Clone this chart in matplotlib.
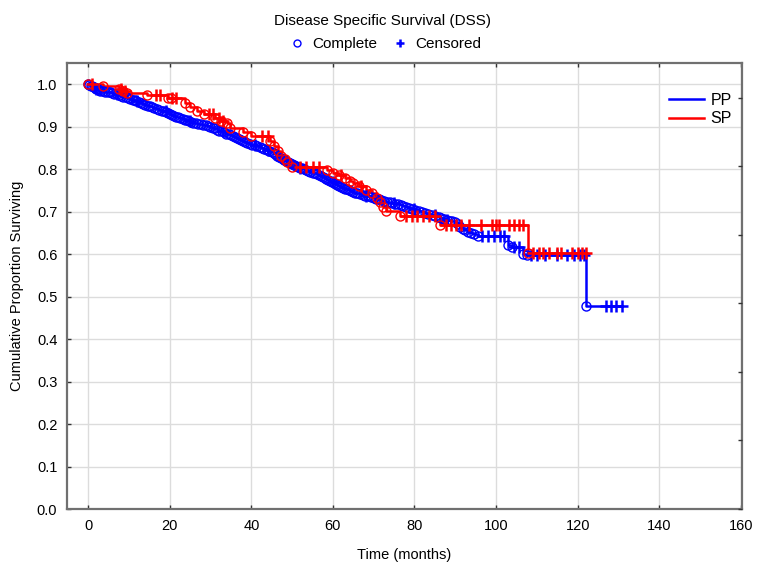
import numpy as np
import matplotlib
matplotlib.use("Agg")
import matplotlib.pyplot as plt
from matplotlib.lines import Line2D

plt.rcParams["font.family"] = ["Liberation Sans", "DejaVu Sans"]
plt.rcParams["font.size"] = 10.5

# PP: event (complete) times and survival after each event
pp_event_t = [0.3, 0.6, 1.0, 1.3, 1.6, 2.0, 2.3, 2.7, 3.0, 3.6, 4.2, 4.8, 5.3, 5.9, 6.4,
              7.0, 7.5, 8.1, 8.6, 9.2, 9.8, 10.3, 10.9, 11.4, 11.8, 12.4, 12.9, 13.5,
              14.0, 14.6, 15.1, 15.7, 16.2, 16.8, 17.4, 18.0, 18.5, 19.1, 19.6, 20.1,
              20.6, 21.1, 21.6, 22.1, 22.6, 23.2, 23.7, 24.3, 24.8, 25.3, 25.8, 26.4,
              27.0, 27.6, 28.2, 28.8, 29.3, 29.9, 30.5, 31.0, 31.6, 32.1, 32.7, 33.3,
              33.9, 34.5, 35.0, 35.5, 36.0, 36.5, 37.0, 37.5, 38.0, 38.5, 39.0, 39.6,
              40.2, 40.8, 41.4, 42.0, 42.6, 43.2, 43.8, 44.4, 45.0, 45.5, 45.9, 46.4,
              46.8, 47.2, 47.7, 48.1, 48.6, 49.0, 49.5, 50.0, 50.5, 51.0, 51.5, 52.0,
              52.5, 53.0, 53.5, 54.0, 54.5, 55.0, 55.5, 56.0, 56.5, 57.0, 57.5, 58.0,
              58.4, 58.9, 59.3, 59.8, 60.2, 60.7, 61.1, 61.6, 62.0, 62.5, 63.0, 63.5,
              64.0, 64.5, 65.0, 65.5, 66.0, 66.6, 67.3, 67.9, 68.6, 69.3, 70.0, 70.6,
              71.3, 71.9, 72.6, 73.3, 74.0, 74.6, 75.3, 75.9, 76.6, 77.3, 78.0, 78.7,
              79.5, 80.2, 81.0, 81.8, 82.6, 83.4, 84.2, 85.1, 86.0, 86.6, 87.3, 87.9,
              88.6, 89.3, 90.0, 90.6, 91.2, 91.8, 92.4, 93.1, 93.8, 94.6, 95.5,
              103.0, 103.8, 106.7, 107.6, 122.0]
pp_event_s = [0.999, 0.997, 0.995, 0.994, 0.992, 0.990, 0.988, 0.987, 0.985, 0.984, 0.983,
              0.982, 0.981, 0.980, 0.978, 0.977, 0.975, 0.973, 0.971, 0.969, 0.967, 0.966,
              0.964, 0.962, 0.960, 0.958, 0.956, 0.954, 0.952, 0.950, 0.948, 0.946, 0.944,
              0.942, 0.940, 0.938, 0.936, 0.934, 0.932, 0.930, 0.928, 0.926, 0.924, 0.922,
              0.920, 0.918, 0.917, 0.915, 0.914, 0.912, 0.910, 0.909, 0.907, 0.906, 0.904,
              0.903, 0.901, 0.900, 0.898, 0.896, 0.893, 0.891, 0.889, 0.887, 0.884, 0.882,
              0.880, 0.878, 0.876, 0.873, 0.871, 0.869, 0.867, 0.864, 0.862, 0.860, 0.858,
              0.856, 0.854, 0.852, 0.849, 0.847, 0.845, 0.843, 0.840, 0.838, 0.835, 0.832,
              0.829, 0.826, 0.824, 0.822, 0.819, 0.817, 0.814, 0.812, 0.810, 0.808, 0.806,
              0.804, 0.802, 0.800, 0.798, 0.796, 0.794, 0.792, 0.790, 0.788, 0.786, 0.784,
              0.782, 0.780, 0.777, 0.775, 0.772, 0.770, 0.767, 0.765, 0.763, 0.761, 0.758,
              0.756, 0.754, 0.753, 0.751, 0.749, 0.747, 0.745, 0.743, 0.741, 0.739, 0.738,
              0.736, 0.734, 0.732, 0.731, 0.729, 0.727, 0.725, 0.724, 0.722, 0.720, 0.718,
              0.717, 0.715, 0.713, 0.711, 0.709, 0.707, 0.705, 0.702, 0.700, 0.697, 0.695,
              0.692, 0.690, 0.687, 0.685, 0.683, 0.681, 0.679, 0.677, 0.675, 0.670, 0.664,
              0.660, 0.656, 0.653, 0.650, 0.647, 0.643, 0.622, 0.618, 0.600, 0.597, 0.478]
pp_cens_t = [2.0, 7.0, 12.0, 19.0, 25.0, 33.0, 41.0, 44.0, 52.0, 60.0, 68.0, 75.0, 80.0,
             85.0, 88.0, 96.5, 98.0, 99.5, 101.0, 102.0, 104.5, 105.5, 108.5, 110.0, 112.0,
             115.0, 117.5, 119.0, 120.5, 121.5, 127.0, 128.2, 129.4, 130.8]

# SP
sp_event_t = [3.7, 7.5, 8.5, 9.5, 14.4, 19.5, 20.3, 23.8, 25.0, 26.6, 28.5, 31.0, 32.5,
              34.0, 34.8, 38.0, 40.0, 44.6, 45.5, 46.5, 47.3, 48.2, 48.8, 50.0, 58.6,
              60.0, 61.5, 63.0, 64.2, 65.0, 66.5, 68.0, 69.5, 70.8, 71.5, 72.3, 73.0,
              76.5, 86.3, 107.8]
sp_event_s = [0.995, 0.990, 0.985, 0.980, 0.974, 0.968, 0.967, 0.955, 0.947, 0.936, 0.930,
              0.920, 0.914, 0.908, 0.896, 0.887, 0.878, 0.866, 0.855, 0.843, 0.832, 0.823,
              0.816, 0.805, 0.798, 0.792, 0.787, 0.780, 0.773, 0.768, 0.760, 0.752, 0.743,
              0.733, 0.722, 0.712, 0.702, 0.690, 0.668, 0.602]
sp_cens_t = [1.0, 8.0, 9.0, 16.5, 17.5, 20.5, 21.5, 29.5, 30.5, 32.0, 33.0, 42.5, 44.0,
             52.0, 53.5, 55.0, 56.5, 62.0, 67.0, 78.0, 79.5, 80.5, 82.0, 83.5, 85.0, 87.8,
             89.0, 90.2, 91.4, 93.4, 96.2, 99.1, 99.9, 100.7, 103.2, 104.4, 105.6, 106.5,
             109.0, 110.5, 111.5, 113.0, 115.0, 116.0, 118.5, 120.0, 121.0, 122.0]
pp_end = 130.8
sp_end = 122.0


def step_value(t_ev, s_ev, t):
    idx = np.searchsorted(t_ev, t, side="right") - 1
    s = np.asarray(s_ev)
    return np.where(idx >= 0, s[np.clip(idx, 0, None)], 1.0)


def draw(ax, t_ev, s_ev, t_c, t_end, color, label):
    xs = np.concatenate([[0.0], t_ev, [t_end]])
    ys = np.concatenate([[1.0], s_ev, [s_ev[-1]]])
    ax.step(xs, ys, where="post", color=color, lw=1.8, label=label, zorder=3)
    ax.plot(t_ev, s_ev, "o", mfc="none", mec=color, ms=6.5, mew=1.0, zorder=4)
    ax.plot([0.0], [1.0], "o", mfc="none", mec=color, ms=6.5, mew=1.0, zorder=4)
    t_c = np.asarray(t_c)
    ax.plot(t_c, step_value(t_ev, s_ev, t_c), "+", color=color, ms=8, mew=1.8, zorder=4)


fig = plt.figure(figsize=(7.58, 5.63), dpi=100)
ax = fig.add_axes([0.0884, 0.0959, 0.8905, 0.7921])

draw(ax, pp_event_t, pp_event_s, pp_cens_t, pp_end, "#0000ff", "PP")
draw(ax, sp_event_t, sp_event_s, sp_cens_t, sp_end, "#ff0000", "SP")

ax.set_xlim(-5.2, 160.3)
ax.set_ylim(0, 1.05)
ax.set_xticks(np.arange(0, 161, 20))
ax.set_yticks(np.arange(0, 1.01, 0.1))
ax.yaxis.set_major_formatter(matplotlib.ticker.FormatStrFormatter("%.1f"))
ax.grid(True, color="#dcdcdc", lw=1.0)
ax.set_axisbelow(True)
ax.tick_params(direction="in", length=3, width=1, color="#333333", labelsize=10.5,
               top=True, pad=7)
for sp in ax.spines.values():
    sp.set_color("#707070")
    sp.set_linewidth(1.6)
ax.set_xlabel("Time (months)", fontsize=10.5, labelpad=11)
ax.set_ylabel("Cumulative Proportion Surviving", fontsize=10.5, labelpad=9)

# secondary right axis ticks (no labels)
ax2 = ax.twinx()
ax2.set_ylim(0, 1.05)
ax2.set_yticks([0.0, 0.1614, 0.3228, 0.4842, 0.6456, 0.807, 0.9684])
ax2.tick_params(direction="in", length=3, width=1, color="#333333", labelright=False)
for sp in ax2.spines.values():
    sp.set_visible(False)

ax.legend(loc="upper right", bbox_to_anchor=(1.006, 0.965), frameon=False,
          fontsize=11.5, handlelength=2.2, handletextpad=0.4, labelspacing=0.2)

fig.text(0.505, 0.962, "Disease Specific Survival (DSS)", ha="center", va="center",
         fontsize=11)
h1 = Line2D([], [], ls="none", marker="o", mfc="none", mec="#0000ff", ms=5, mew=1.0)
h2 = Line2D([], [], ls="none", marker="+", color="#0000ff", ms=6, mew=1.8)
fig.legend([h1, h2], ["Complete", "Censored"], loc="center", ncol=2,
           bbox_to_anchor=(0.508, 0.921), frameon=False, fontsize=11,
           handlelength=1.0, handletextpad=0.5, columnspacing=1.0)

fig.savefig("out.png", dpi=100)
